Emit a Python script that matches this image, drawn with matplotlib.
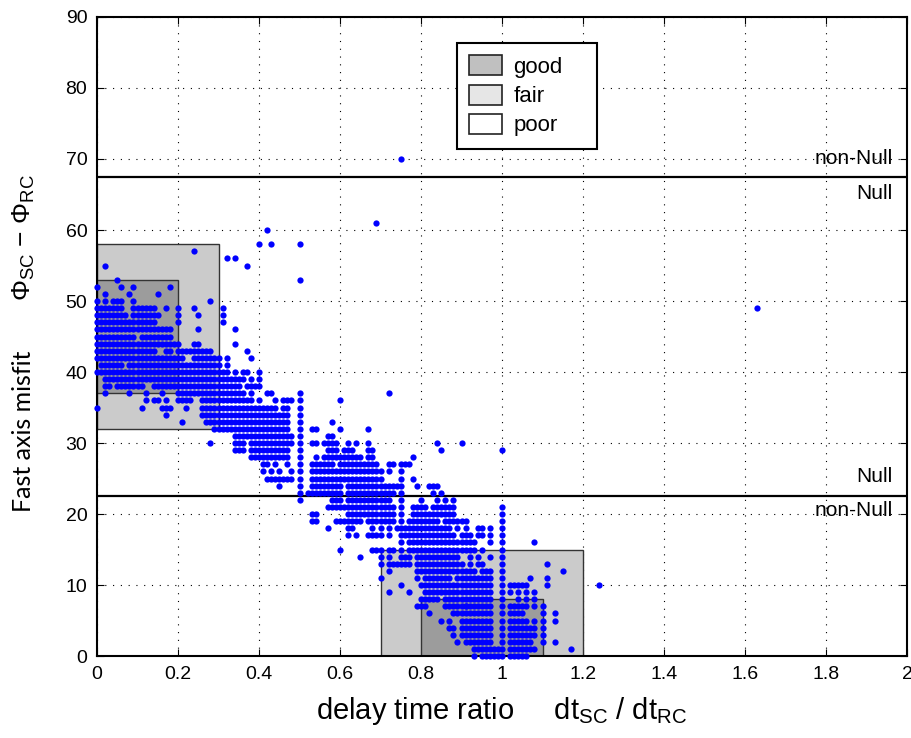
import matplotlib
matplotlib.use("Agg")
import matplotlib.pyplot as plt
from matplotlib.patches import Rectangle, Patch

plt.rcParams['font.family'] = ['Liberation Sans', 'DejaVu Sans']
plt.rcParams['mathtext.fontset'] = 'custom'
plt.rcParams['mathtext.rm'] = 'Liberation Sans'
plt.rcParams['mathtext.it'] = 'Liberation Sans'

# misfit value (deg) -> delay time ratios (in 1/100) read row by row; "a-b" = contiguous run of points
misfit_deg = [70, 61, 60, 58, 57, 56, 55, 53, 52, 51, 50, 49, 48, 47, 46, 45, 44, 43, 42, 41,
              40, 39, 38, 37, 36, 35, 34, 33, 32, 31, 30, 29, 28, 27, 26, 25, 24, 23, 22, 21,
              20, 19, 18, 17, 16, 15, 14, 13, 12, 11, 10, 9, 8, 7, 6, 5, 4, 3, 2, 1, 0]
ratio_rows = [
    "75", "69", "42", "40 43 50", "24", "32 34", "2 37", "5 50", "0 6 9 18", "2 8 15",
    "0 2 4-6 9 28",
    "0-6 9-14 17 20 24 31 163",
    "0-7 9-15 20 25 31",
    "0-14 20 31",
    "0-14 15-18 25 34",
    "0-9 11-18",
    "0-20 24 25 34",
    "0-14 17 18 20-28 37",
    "0-21 24-30 32 38",
    "1-6 8-30 32",
    "0-6 7-32 34 36 37 40",
    "2-5 6-8 9-29 30-36 38 40",
    "2-3 5-9 10-11 14-35 37-40",
    "2 8 12 16 20-36 38 42 43 50 72",
    "12 14 15 17 20-23 26-36 37 38 40 44 46-48 50 60",
    "0 11 16-18 22 26-44 46 47 50",
    "17 26-29 30-46 47 50",
    "21 27-31 32-46 47 50 58",
    "29-45 46 47 50 53 54 60 67",
    "34-48 50 57 58",
    "28 34-36 38-48 50 53 54 56-59 62 64 67 84 90",
    "34-36 38-47 50 57-59 61-63 67 68 85 100",
    "38-47 50 54 56-65 67 68 78",
    "41 42 44 47 50 53-58 60-63 64-69 72 73 75-77",
    "41 43 45 48 50 53-70 72 75",
    "42-48 50 53-63 64-70 75 78",
    "45 50 53-60 62-68 69-74 75 79 82-84",
    "50 52-55 56-60 62-73 75 83 85",
    "50 58-60 62-72 75 80 84 86 88",
    "57-73 75 78-81 83-88 100",
    "53 54 62-73 75 78-84 85-88 100",
    "53 54 59 60-65 67-73 75 77-84 86-91 100",
    "57 62 63 68 70 72 74 75-80 81-87 89 91 94 95 97 100",
    "62 64 67-70 72 75-88 90-92 94 95 97 100",
    "75 77-93 97 100 108",
    "60 68-70 72 73 75 77-93 95 100",
    "65 70 72 75-77 79-89 92 94 97 100",
    "70 72-74 75-77 79-83 84-89 90 92 94 95 100 111",
    "72 79-81 82-89 90-93 95-97 100 115",
    "70 79 81-84 85-87 89-91 92-97 100 107 111",
    "75 80-84 85-89 90-97 100 102-106 111 124",
    "72 77 81-84 85-92 93-97 100 102 104 106 108",
    "80-84 86-97 100 104 106 108",
    "79-81 86-91 91-97 100 102-105 106 108 110",
    "82 88-91 92-97 100 102-105 110 113",
    "85 87 90-97 100 102-106 108 110 113",
    "87 88 90-97 100 102-108 110",
    "88 90-97 100 102-108 110",
    "89 91-97 100 102-107 110 113",
    "93-99 100 102-108 117",
    "93 95-99 100 102-106",
]

# quality boxes: (x0, x1, y0, y1)
fair_boxes = [(0.0, 0.3, 32, 58), (0.7, 1.2, 0, 15)]
good_boxes = [(0.0, 0.2, 37, 53), (0.8, 1.1, 0, 8)]
null_limits = [67.5, 22.5]
legend_labels = ['good', 'fair', 'poor']

xs, ys = [], []
for y, row in zip(misfit_deg, ratio_rows):
    for tok in row.split():
        if '-' in tok:
            a, b = map(int, tok.split('-'))
        else:
            a = b = int(tok)
        for v in range(a, b + 1):
            xs.append(v / 100)
            ys.append(y)

fig = plt.figure(figsize=(9.12, 7.38), dpi=100)
ax = fig.add_axes([0.1064, 0.111, 0.8881, 0.866])

for x0, x1, y0, y1 in fair_boxes:
    ax.add_patch(Rectangle((x0, y0), x1 - x0, y1 - y0, facecolor='#cbcbcb',
                           edgecolor='#333333', lw=1.0, zorder=1))
for x0, x1, y0, y1 in good_boxes:
    ax.add_patch(Rectangle((x0, y0), x1 - x0, y1 - y0, facecolor='#9c9c9c',
                           edgecolor='#333333', lw=1.0, zorder=1))

ax.grid(True, color='black', linestyle=(0, (1, 6)), lw=0.8, zorder=0)
ax.set_axisbelow(True)

ax.plot(xs, ys, 'o', color='#0000ff', markersize=4.5, markeredgewidth=0,
        clip_on=False, zorder=3)

for yl in null_limits:
    ax.axhline(yl, color='black', lw=1.6, zorder=2)

ax.text(1.965, 70.0, 'non-Null', ha='right', va='center', fontsize=15, zorder=4)
ax.text(1.965, 65.2, 'Null', ha='right', va='center', fontsize=15, zorder=4)
ax.text(1.965, 25.3, 'Null', ha='right', va='center', fontsize=15, zorder=4)
ax.text(1.965, 20.5, 'non-Null', ha='right', va='center', fontsize=15, zorder=4)

ax.set_xlim(0, 2)
ax.set_ylim(0, 90)
ax.set_xticks([i * 0.2 for i in range(11)])
ax.set_xticklabels(['0', '0.2', '0.4', '0.6', '0.8', '1', '1.2', '1.4', '1.6', '1.8', '2'])
ax.set_yticks(range(0, 91, 10))
ax.tick_params(direction='in', top=True, right=True, length=5, labelsize=14, pad=7)
for s in ax.spines.values():
    s.set_linewidth(1.5)

ax.set_xlabel(r'delay time ratio     dt$_{\mathrm{SC}}$ / dt$_{\mathrm{RC}}$', fontsize=21, labelpad=9)
fig.text(0.026, 0.415, 'Fast axis misfit', rotation=90, ha='center', va='center',
         fontsize=18, family='Lato')
fig.text(0.026, 0.678, r'$\Phi_{\mathrm{SC}}$ $-$ $\Phi_{\mathrm{RC}}$', rotation=90,
         ha='center', va='center', fontsize=19)

handles = [Patch(facecolor='#c0c0c0', edgecolor='#222222', lw=1.2),
           Patch(facecolor='#e6e6e6', edgecolor='#222222', lw=1.2),
           Patch(facecolor='white', edgecolor='#222222', lw=1.2)]
leg = ax.legend(handles, legend_labels, loc='upper left',
                bbox_to_anchor=(0.444, 0.80, 0.173, 0.159), mode='expand',
                borderaxespad=0, fancybox=False, edgecolor='black', framealpha=1,
                fontsize=16, handlelength=1.5, handleheight=1.0, labelspacing=0.3,
                borderpad=0.55, handletextpad=0.5)
leg.get_frame().set_linewidth(1.5)

fig.savefig('out.png', dpi=100)
